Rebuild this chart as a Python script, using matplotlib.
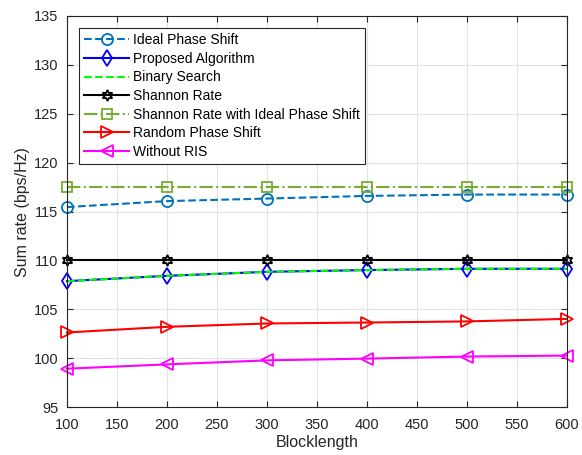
import matplotlib
matplotlib.use("Agg")
import matplotlib.pyplot as plt

plt.rcParams['font.family'] = ['Liberation Sans', 'DejaVu Sans']

blocklength = [100, 200, 300, 400, 500, 600]
ideal_phase = [115.46, 116.07, 116.33, 116.6, 116.74, 116.74]
proposed = [107.89, 108.43, 108.84, 109.02, 109.15, 109.15]
binary_search = [107.89, 108.43, 108.84, 109.02, 109.15, 109.15]
shannon = [110.04, 110.04, 110.04, 110.04, 110.04, 110.04]
shannon_ideal = [117.5, 117.5, 117.5, 117.5, 117.5, 117.5]
random_phase = [102.64, 103.22, 103.56, 103.66, 103.77, 104.03]
without_ris = [98.94, 99.38, 99.79, 99.97, 100.18, 100.28]

fig = plt.figure(figsize=(5.82, 4.55), dpi=100)
ax = fig.add_axes([0.115, 0.105, 0.859, 0.86])

common = dict(lw=1.5, mfc='none', mew=1.3, clip_on=False)
ax.plot(blocklength, ideal_phase, '--o', color='#0072BD', ms=8,
        label='Ideal Phase Shift', **common)
ax.plot(blocklength, proposed, '-d', color='#0000FF', ms=8,
        label='Proposed Algorithm', **common)
ax.plot(blocklength, binary_search, '--', color='#00FF00',
        label='Binary Search', **common)
ax.plot(blocklength, shannon, '-', marker=(6, 1, 0), color='black', ms=8,
        label='Shannon Rate', **common)
ax.plot(blocklength, shannon_ideal, '-.s', color='#77AC30', ms=7,
        label='Shannon Rate with Ideal Phase Shift', **common)
ax.plot(blocklength, random_phase, '->', color='#FF0000', ms=8,
        label='Random Phase Shift', **common)
ax.plot(blocklength, without_ris, '-<', color='#FF00FF', ms=8,
        label='Without RIS', **common)

ax.set_xlim(100, 600)
ax.set_ylim(95, 135)
ax.set_xticks(range(100, 601, 50))
ax.set_yticks(range(95, 136, 5))
ax.grid(True, color='#E3E3E3', lw=0.8)
ax.set_axisbelow(True)
ax.tick_params(direction='in', top=True, right=True, labelsize=10.5,
               colors='#262626', length=4, pad=6)
ax.tick_params(axis='x', pad=8)
for s in ax.spines.values():
    s.set_color('#262626')
    s.set_linewidth(0.8)

ax.set_xlabel('Blocklength', fontsize=11.5, color='#262626', labelpad=2)
ax.set_ylabel('Sum rate (bps/Hz)', fontsize=11.5, color='#262626', labelpad=3)

leg = ax.legend(loc='upper left', fontsize=10, fancybox=False,
                framealpha=1, edgecolor='#262626', borderaxespad=0.9,
                handlelength=3.2, labelspacing=0.33, borderpad=0.35,
                handletextpad=0.3)
leg.get_frame().set_linewidth(0.8)

fig.savefig('out.png', dpi=100)
